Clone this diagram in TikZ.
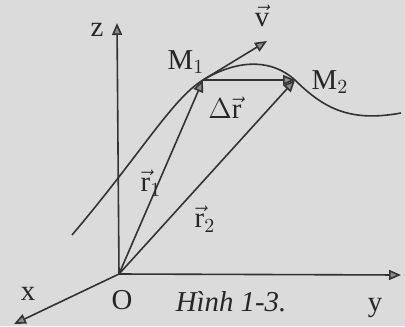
\documentclass[tikz,border=0pt]{standalone}
\usepackage{fontspec}
\setmainfont{Liberation Serif}
\usetikzlibrary{arrows.meta,positioning}
\tikzstyle{vec} = [draw=black!80, line width=0.8pt, -{Triangle[length=6pt,width=5pt,fill=black!45]}]
\tikzstyle{lbl} = [inner sep=1pt, text=black!85, font=\Large]
\begin{document}
\begin{tikzpicture}[x=0.5pt, y=-0.5pt]
    \fill[black!14] (0,0) rectangle (405,326);
    \useasboundingbox (0,0) rectangle (405,326);
    % points
    \coordinate (O) at (119,274);
    \coordinate (M1) at (203,80);
    \coordinate (M2) at (295,80);
    \coordinate (zend) at (117,23);
    \coordinate (yend) at (401,275);
    \coordinate (xend) at (14,324);
    \coordinate (vend) at (267,41);
    \coordinate (cstart) at (72,235);
    \coordinate (cend) at (401,113);

    % axes
    \draw [vec] (O) -- (zend);
    \draw [vec] (O) -- (yend);
    \draw [vec] (O) -- (xend);

    % trajectory
    \draw [draw=black!80, line width=0.8pt] (cstart) .. controls (140,155) and (172,99) .. (M1)
        .. controls (233,62) and (268,56) .. (M2)
        .. controls (325,110) and (352,122) .. (cend);

    % vectors
    \draw [vec] (O) -- (M1);
    \draw [vec] (O) -- (M2);
    \draw [vec] (M1) -- (M2);
    \draw [vec] (M1) -- (vend);

    % labels
    \node [lbl] (zlbl) at (97,30) {z};
    \node [lbl] (xlbl) at (28,294) {x};
    \node [lbl] (ylbl) at (375,308) {y};
    \node [lbl] (Olbl) at (122,300) {O};
    \node [lbl] (M1lbl) at (186,62) {M$_1$};
    \node [lbl] (M2lbl) at (330,82) {M$_2$};
    \node [lbl] (vlbl) at (262,16) {$\vec{\textrm{v}}$};
    \node [lbl] (drlbl) at (225,108) {$\Delta\vec{\textrm{r}}$};
    \node [lbl] (r1lbl) at (151,183) {$\vec{\textrm{r}}_1$};
    \node [lbl] (r2lbl) at (205,219) {$\vec{\textrm{r}}_2$};
    \node [lbl, font=\Large\itshape] (cap) at (231,302) {Hình 1-3.};
\end{tikzpicture}
\end{document}
